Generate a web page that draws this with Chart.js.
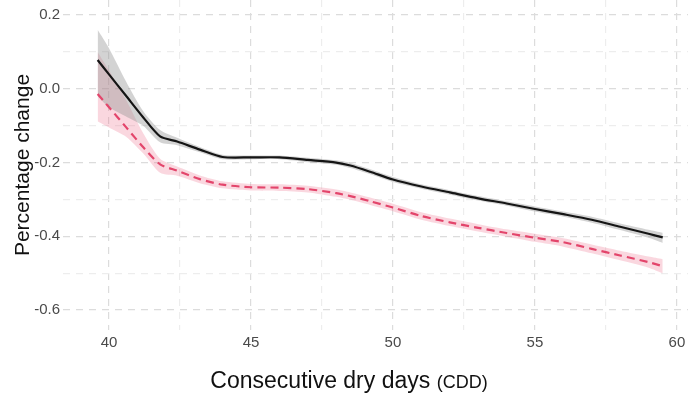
<!DOCTYPE html>
<html>
<head>
<meta charset="utf-8">
<script src="https://cdn.jsdelivr.net/npm/chart.js@4.4.1/dist/chart.umd.min.js"></script>
<style>
  html, body { margin: 0; padding: 0; background: #fff; }
  #wrap { position: relative; width: 688px; height: 395px; }
  #xtitle {
    position: absolute; left: 0; width: 698px; top: 369px;
    text-align: center; font-family: "Liberation Sans", Arial, sans-serif;
    font-size: 23px; line-height: 22px; color: #111;
  }
  #xtitle small { font-size: 18px; }
</style>
</head>
<body>
<div id="wrap">
  <canvas id="chart" width="688" height="395"></canvas>
  <div id="xtitle">Consecutive dry days <small>(CDD)</small></div>
</div>
<script>
// consecutive dry days (x)
const cdd = [39.6, 40.0, 40.6, 41.2, 41.8, 42.4, 43.2, 44.0, 45.0, 46.0, 47.0, 48.0, 48.5, 49.2, 50.0, 51.0, 52.0, 53.0, 54.0, 55.0, 56.0, 57.0, 58.0, 59.0, 59.5];

// black solid series + grey band
const blackMean  = [0.078, 0.039, -0.019, -0.077, -0.129, -0.143, -0.165, -0.185, -0.186, -0.186, -0.193, -0.200, -0.208, -0.225, -0.246, -0.265, -0.281, -0.297, -0.311, -0.326, -0.340, -0.355, -0.374, -0.393, -0.403];
const blackUpper = [0.16, 0.11, 0.02, -0.06, -0.112, -0.133, -0.158, -0.179, -0.181, -0.181, -0.187, -0.194, -0.201, -0.218, -0.239, -0.259, -0.275, -0.291, -0.305, -0.319, -0.333, -0.347, -0.365, -0.382, -0.39];
const blackLower = [-0.02, -0.05, -0.075, -0.10, -0.145, -0.153, -0.172, -0.191, -0.191, -0.191, -0.199, -0.206, -0.215, -0.232, -0.253, -0.271, -0.287, -0.303, -0.317, -0.333, -0.347, -0.363, -0.383, -0.404, -0.418];

// red dashed series + pink band
const redMean  = [-0.014, -0.050, -0.104, -0.158, -0.205, -0.222, -0.245, -0.260, -0.267, -0.268, -0.272, -0.283, -0.291, -0.305, -0.322, -0.345, -0.362, -0.377, -0.391, -0.404, -0.416, -0.434, -0.452, -0.470, -0.481];
const redUpper = [0.10, 0.05, -0.03, -0.12, -0.19, -0.211, -0.235, -0.251, -0.258, -0.259, -0.263, -0.273, -0.281, -0.295, -0.312, -0.335, -0.352, -0.367, -0.381, -0.393, -0.405, -0.422, -0.439, -0.455, -0.462];
const redLower = [-0.088, -0.105, -0.13, -0.175, -0.228, -0.236, -0.256, -0.27, -0.276, -0.277, -0.281, -0.293, -0.301, -0.315, -0.332, -0.355, -0.372, -0.387, -0.401, -0.415, -0.428, -0.446, -0.465, -0.485, -0.50];

const pts = ys => cdd.map((x, i) => ({ x: x, y: ys[i] }));
const font = "'Liberation Sans', Arial, sans-serif";

const isMajorY = v => Math.round(v * 10) % 2 === 0;
const isMajorX = v => Math.abs(v % 5) < 1e-6;

const line = { pointRadius: 0, tension: 0.25, fill: false };

// no label-driven padding, so the panel fills the canvas like ggplot
const noPad = s => { s.paddingTop = 0; s.paddingBottom = 0; s.paddingLeft = 0; s.paddingRight = 0; };

new Chart(document.getElementById('chart'), {
  type: 'line',
  data: {
    datasets: [
      // lines first so they are painted last (on top)
      { ...line, data: pts(blackMean), borderColor: '#151515', borderWidth: 2.2 },
      { ...line, data: pts(redMean), borderColor: '#e3456b', borderWidth: 2.2, borderDash: [8, 5] },
      { ...line, data: pts(blackUpper), borderWidth: 0, fill: '+1', backgroundColor: 'rgba(150,150,150,0.42)' },
      { ...line, data: pts(blackLower), borderWidth: 0 },
      { ...line, data: pts(redUpper), borderWidth: 0, fill: '+1', backgroundColor: 'rgba(238,110,140,0.28)' },
      { ...line, data: pts(redLower), borderWidth: 0 }
    ]
  },
  options: {
    responsive: false,
    animation: false,
    layout: { padding: 0 },
    plugins: { legend: { display: false }, tooltip: { enabled: false } },
    scales: {
      x: {
        type: 'linear',
        min: 38.38, max: 60.39,
        afterFit: s => { s.height = 65; noPad(s); },
        border: { display: false, dash: [7, 6] },
        grid: {
          drawTicks: false,
          color: c => isMajorX(c.tick.value) ? '#dcdcdc' : '#ededed',
          lineWidth: 1.2
        },
        ticks: {
          stepSize: 2.5, includeBounds: false, autoSkip: false, maxRotation: 0,
          padding: 4, color: '#4a4a4a', font: { family: font, size: 15 },
          callback: v => isMajorX(v) ? String(v) : ''
        }
      },
      y: {
        min: -0.654, max: 0.2407,
        afterFit: s => { s.width = 63; noPad(s); },
        border: { display: false, dash: [7, 6] },
        grid: {
          drawTicks: false,
          color: c => isMajorY(c.tick.value) ? '#dcdcdc' : '#ededed',
          lineWidth: 1.2
        },
        ticks: {
          stepSize: 0.1, includeBounds: false, autoSkip: false,
          padding: 3, color: '#4a4a4a', font: { family: font, size: 15 },
          callback: v => {
            if (!isMajorY(v)) return '';
            const r = Math.round(v * 10) / 10;
            return r === 0 ? '0.0' : r.toFixed(1);
          }
        },
        title: {
          display: true, text: 'Percentage change', color: '#111',
          font: { family: font, size: 21 }, padding: { top: 11, bottom: 0 }
        }
      }
    }
  }
});
</script>
</body>
</html>
